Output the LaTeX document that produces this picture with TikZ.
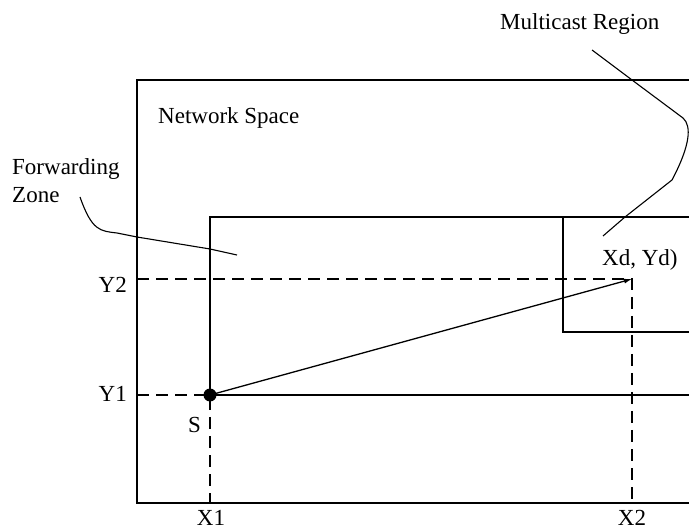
\documentclass[tikz,border=0pt]{standalone}
\usepackage{fontspec}
\setmainfont{Liberation Serif}
\usetikzlibrary{arrows.meta}
\begin{document}
\begin{tikzpicture}[x=1pt,y=1pt,
  lbl/.style={font=\fontsize{23}{27}\selectfont, inner sep=0pt},
  solidline/.style={line width=1.3pt},
  dashline/.style={line width=1.3pt, dash pattern=on 12pt off 7pt},
  pointer/.style={line width=1.1pt}]
\useasboundingbox (0,0) rectangle (689,531);
\clip (0,0) rectangle (689,531);
% corners
\coordinate (nsTL) at (137,451);
\coordinate (nsBL) at (137,28);
\coordinate (nsTR) at (700,451);
\coordinate (nsBR) at (700,28);
\coordinate (fzTL) at (210,314);
\coordinate (fzTR) at (700,314);
\coordinate (fzBR) at (700,136);
\coordinate (mrTL) at (563,314);
\coordinate (mrBL) at (563,199);
\coordinate (mrBR) at (700,199);
\coordinate (D) at (632,252);
\coordinate (y2L) at (137,252);
\coordinate (y1L) at (137,136);
\coordinate (x1B) at (210,28);
\coordinate (x2B) at (632,28);
% network space
\draw[solidline] (nsTR) -- (nsTL) -- (nsBL) -- (nsBR);
% forwarding zone
\draw[solidline] (fzTR) -- (fzTL) |- (fzBR);
% multicast region
\draw[solidline] (mrTL) -- (mrBL) -- (mrBR);
% source
\node[circle, fill=black, minimum size=13pt, inner sep=0pt] (S) at (210,136) {};
% dashed guides
\draw[dashline] (y2L) -- (D) -- (x2B);
\draw[dashline] (y1L) -- (S.center) -- (x1B);
% line S to destination
\draw[solidline, -{Latex[length=8pt,width=5pt]}] (S.center) -- (D);
% labels
\node[lbl, anchor=base west] (mc) at (500,501) {Multicast Region};
\node[lbl, anchor=base west] (ns) at (158,407) {Network Space};
\node[lbl, anchor=base west] (fw) at (12,356) {Forwarding};
\node[lbl, anchor=base west] (zn) at (12,328) {Zone};
\node[lbl, anchor=base east] (y2) at (127,238) {Y2};
\node[lbl, anchor=base east] (y1) at (127,129) {Y1};
\node[lbl, anchor=base west] (s) at (188,99) {S};
\node[lbl, anchor=base] (x1) at (211,6) {X1};
\node[lbl, anchor=base] (x2) at (632,6) {X2};
\node[lbl, anchor=base west] (xd) at (602,265) {Xd, Yd)};
% pointers
\draw[pointer] (80,334) .. controls (92,300) and (100,300) .. (117,298)
  -- (137,294) -- (210,282) -- (237,276);
\draw[pointer] (592,481) -- (632,451) -- (683,413) .. controls (692,405) and (690,385) .. (672,351)
  -- (625,314) -- (603,295);
\end{tikzpicture}
\end{document}
